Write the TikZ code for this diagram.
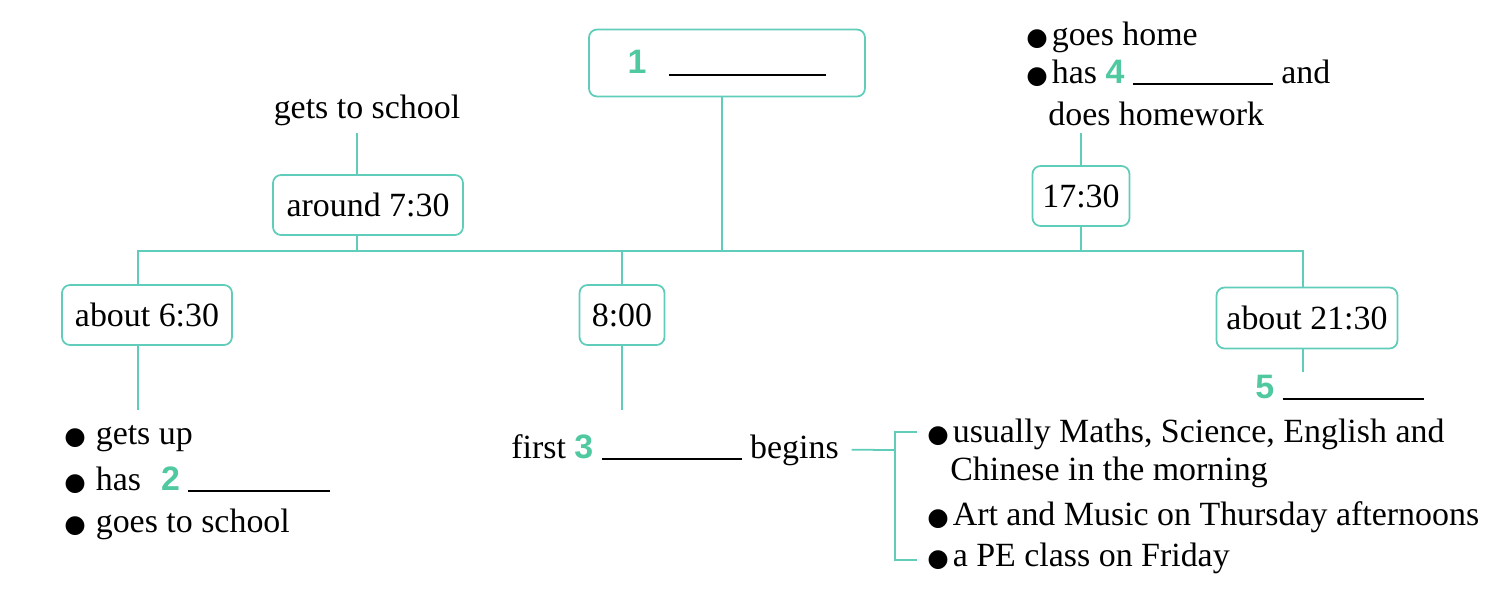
\documentclass[tikz,border=0pt]{standalone}
\usepackage{fontspec}
\usepackage{xcolor}
\usepackage{tikz}
\usetikzlibrary{positioning}
\setmainfont{Liberation Serif}
\newfontfamily\numfont{Liberation Sans}
\newfontfamily\symfont{DejaVu Sans}
\definecolor{lineteal}{RGB}{95,205,185}
\definecolor{numgreen}{RGB}{80,200,160}
\newcommand{\so}[1]{{\numfont\bfseries\color{numgreen}#1}}
\newcommand{\blank}[1]{\rule[-1.2pt]{#1}{1.1pt}}
\newcommand{\bulletmark}[1][0.08cm]{{\symfont\fontsize{14}{14}\selectfont ●}\hspace{#1}}

\begin{document}
\begin{tikzpicture}[x=0.02cm, y=-0.02cm, font=\fontsize{19.3}{22}\selectfont,
    tbox/.style={draw=lineteal, line width=1pt, rounded corners=0.16cm, inner sep=0pt},
    link/.style={draw=lineteal, line width=1pt},
    txt/.style={anchor=base west, inner sep=0pt}]
    \useasboundingbox (0,0) rectangle (1499,610);

    % Ô tiêu đề và các ô thời gian
    \node[tbox, minimum width=5.52cm, minimum height=1.34cm] (w1) at (727,63)
        {\so{1}\hspace{0.46cm}\blank{3.14cm}};
    \node[tbox, minimum width=3.8cm, minimum height=1.2cm] (t730) at (368,205) {around 7:30};
    \node[tbox, minimum width=1.94cm, minimum height=1.2cm] (t1730) at (1081,196) {17:30};
    \node[tbox, minimum width=3.4cm, minimum height=1.2cm] (w630) at (147,315) {about 6:30};
    \node[tbox, minimum width=1.7cm, minimum height=1.2cm] (w800) at (622,315) {8:00};
    \node[tbox, minimum width=3.62cm, minimum height=1.22cm] (w2130) at (1307,318) {about 21:30};

    % Các dòng chữ phía trên
    \node[anchor=base, inner sep=0pt] (gts) at (367,118) {gets to school};
    \node[txt] (gh) at (1026,45) {\bulletmark goes home};
    \node[txt] (h4) at (1026,83) {\bulletmark has \so{4} \blank{2.8cm} and};
    \node[txt] (dh) at (1048,125) {does homework};

    % Các dòng chữ phía dưới
    \node[txt] (gu) at (64,444) {\bulletmark[0.2cm]gets up};
    \node[txt] (h2) at (64,490) {\bulletmark[0.2cm]has\hspace{0.4cm}\so{2} \blank{2.84cm}};
    \node[txt] (gs) at (64,532) {\bulletmark[0.2cm]goes to school};
    \node[txt] (first) at (511,458) {first \so{3} \blank{2.8cm} begins};
    \node[txt] (h5) at (1255,398) {\so{5} \blank{2.82cm}};
    \node[txt] (m1) at (927,442) {\bulletmark usually Maths, Science, English and};
    \node[txt] (m2) at (950,480) {Chinese in the morning};
    \node[txt] (m3) at (927,525) {\bulletmark Art and Music on Thursday afternoons};
    \node[txt] (m4) at (927,566) {\bulletmark a PE class on Friday};

    % Các điểm nối tự do
    \coordinate (bus) at (0,251);
    \coordinate (c730) at (357,133);
    \coordinate (c1730) at (1081,133);
    \coordinate (c630) at (138,410);
    \coordinate (c800) at (622,410);
    \coordinate (c2130) at (1303,372);
    \coordinate (brk) at (895,450);
    \coordinate (bktop) at (917,432);
    \coordinate (bkbot) at (917,560);

    % Đường nối
    \draw[link] ([xshift=-0.1cm]w1.south) -- ([xshift=-0.1cm]w1.south |- bus);
    \draw[link] (c630 |- w630.north) |- (bus -| c2130) -- (c2130 |- w2130.north);
    \draw[link] (w800.north) -- (w800.north |- bus);
    \draw[link] (c730 |- t730.south) -- (c730 |- bus);
    \draw[link] (t1730.south) -- (t1730.south |- bus);
    \draw[link] (c730 |- t730.north) -- (c730);
    \draw[link] (t1730.north) -- (c1730);
    \draw[link] (c630 |- w630.south) -- (c630);
    \draw[link] (w800.south) -- (c800);
    \draw[link] (c2130 |- w2130.south) -- (c2130);
    \draw[link] ([xshift=0.25cm]first.east) -- (brk);
    \draw[link] (bktop) -| (brk) |- (bkbot);
\end{tikzpicture}
\end{document}
